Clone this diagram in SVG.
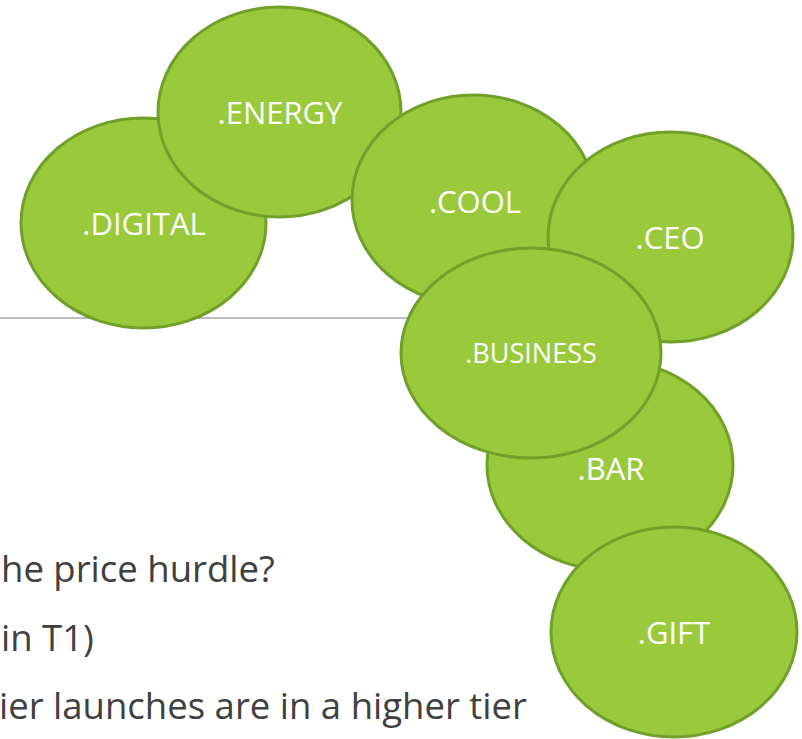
<svg xmlns="http://www.w3.org/2000/svg" width="802" height="739" viewBox="0 0 802 739">
  <style>
    .bubble { fill: #9aca3c; stroke: #71a02a; stroke-width: 3; }
    .label { fill: #ffffff; font-family: "Open Sans", "Liberation Sans", sans-serif; font-size: 31px; text-anchor: middle; }
    .label.small { font-size: 27px; }
    .body { fill: #404040; font-family: "Open Sans", "Liberation Sans", sans-serif; font-size: 36.5px; }
  </style>
  <rect width="802" height="739" fill="#ffffff"/>
  <!-- divider rule, sits behind the bubbles -->
  <line x1="0" y1="318" x2="420" y2="318" stroke="#a6a6a6" stroke-width="1.5"/>

  <g id="body-text">
    <text class="body" x="1" y="582">he price hurdle?</text>
    <text class="body" x="1" y="651">in T1)</text>
    <text class="body" x="-1" y="719">ier launches are in a higher tier</text>
  </g>

  <g id="digital">
    <ellipse class="bubble" cx="143.5" cy="223" rx="122.5" ry="105"/>
    <text class="label" x="144" y="235">.DIGITAL</text>
  </g>
  <g id="energy">
    <ellipse class="bubble" cx="279.5" cy="112" rx="121.5" ry="105"/>
    <text class="label" x="280" y="124">.ENERGY</text>
  </g>
  <g id="cool">
    <ellipse class="bubble" cx="473.5" cy="200" rx="121.5" ry="105"/>
    <text class="label" x="475" y="213">.COOL</text>
  </g>
  <g id="ceo">
    <ellipse class="bubble" cx="670.5" cy="237" rx="122.5" ry="105"/>
    <text class="label" x="670" y="249">.CEO</text>
  </g>
  <g id="bar">
    <ellipse class="bubble" cx="610" cy="465" rx="123" ry="105"/>
    <text class="label" x="611" y="480">.BAR</text>
  </g>
  <g id="business">
    <ellipse class="bubble" cx="531" cy="353" rx="130" ry="105"/>
    <text class="label small" x="531" y="363">.BUSINESS</text>
  </g>
  <g id="gift">
    <ellipse class="bubble" cx="674" cy="632" rx="123" ry="105"/>
    <text class="label" x="674" y="644">.GIFT</text>
  </g>

  <g id="connectors"/>
</svg>
